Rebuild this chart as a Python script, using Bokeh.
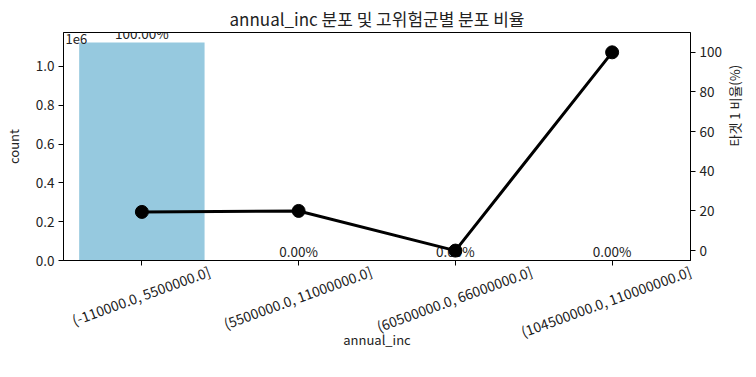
from bokeh.plotting import figure
from bokeh.models import (ColumnDataSource, Range1d, LinearAxis, FixedTicker,
                          Label)
from bokeh.core.properties import value
from bokeh.embed import file_html
from bokeh.resources import INLINE
import math

# ---- data ----
categories = ["(-110000.0, 5500000.0]", "(5500000.0, 11000000.0]",
              "(60500000.0, 66000000.0]", "(104500000.0, 110000000.0]"]
counts = [1124000, 5, 2, 1]
share_labels = ["100.00%", "0.00%", "0.00%", "0.00%"]
target_rate = [19.5, 20.0, 0.0, 100.0]
count_ticks = [0, 200000, 400000, 600000, 800000, 1000000]
count_tick_labels = ["0.0", "0.2", "0.4", "0.6", "0.8", "1.0"]
rate_ticks = [0, 20, 40, 60, 80, 100]

FONT = "Noto Sans CJK KR"
TXT = "#222222"
ROT = math.radians(20)
YMAX = 1175000
W, H = 756, 377
BL, BR = 59, 64
XFS = 14  # px, category label font size

n = len(categories)
xpos = list(range(n))  # category index positions on a linear x scale

p = figure(width=W, height=H, x_range=Range1d(-0.5, n - 0.5),
           y_range=Range1d(0, YMAX), output_backend="svg",
           toolbar_location=None, x_axis_location=None,
           title="annual_inc 분포 및 고위험군별 분포 비율")
p.min_border_left = BL
p.min_border_right = BR
p.min_border_top = 32
p.min_border_bottom = 117
p.grid.visible = False
p.outline_line_color = "black"
p.outline_line_width = 1
p.outline_line_alpha = 1

p.title.align = "center"
p.title.text_font = FONT
p.title.text_font_size = "17px"
p.title.text_font_style = "normal"
p.title.text_color = TXT
p.title.standoff = 4

src = ColumnDataSource(dict(x=xpos, cat=categories, count=counts,
                            lab=share_labels, rate=target_rate))

p.vbar(x="x", top="count", width=0.8, source=src, color="#96c9df",
       line_color=None)

p.text(x="x", y="count", text="lab", source=src, text_align="center",
       text_baseline="bottom", text_font=value(FONT), text_font_size="13.5px",
       text_color=TXT, y_offset=1)

p.extra_y_ranges = {"pct": Range1d(-5, 110)}
p.line(x="x", y="rate", source=src, y_range_name="pct", line_color="black",
       line_width=3)
p.scatter(x="x", y="rate", source=src, y_range_name="pct", size=13,
          color="black")

# ---- x axes: tick marks at category centres, rotated labels centred on them
EM = {"0": .554, "1": .554, "2": .554, "3": .554, "4": .554, "5": .554,
      "6": .554, "7": .554, "8": .554, "9": .554, ".": .27, ",": .27,
      " ": .224, "(": .34, "]": .34, "-": .35}
px_per_unit = (W - BL - BR) / n
shifted = []
for c, s in zip(xpos, categories):
    w = sum(EM.get(ch, .55) for ch in s) * XFS
    t = c + (w / 2) * math.cos(ROT) / px_per_unit
    shifted.append(round(min(t, n - 0.5 - 0.001), 4))

xa = LinearAxis(ticker=FixedTicker(ticks=xpos),
                major_label_overrides={c: "" for c in xpos})
p.add_layout(xa, "below")
xb = LinearAxis(ticker=FixedTicker(ticks=shifted),
                major_label_overrides={t: s for t, s in zip(shifted, categories)},
                axis_label="annual_inc")
p.add_layout(xb, "below")

right = LinearAxis(y_range_name="pct", ticker=FixedTicker(ticks=rate_ticks),
                   axis_label="타겟 1 비율(%)")
p.add_layout(right, "right")

yax = p.yaxis[0]
yax.ticker = FixedTicker(ticks=count_ticks)
yax.major_label_overrides = {t: l for t, l in zip(count_ticks, count_tick_labels)}
yax.axis_label = "count"

for ax in [yax, right, xa, xb]:
    ax.axis_line_color = "black"
    ax.major_tick_line_color = "black"
    ax.major_tick_out = 5
    ax.major_tick_in = 0
    ax.minor_tick_line_color = None
    ax.major_label_text_font = FONT
    ax.major_label_text_font_size = "13.5px"
    ax.major_label_text_color = TXT
    ax.axis_label_text_font = FONT
    ax.axis_label_text_font_size = "13px"
    ax.axis_label_text_font_style = "normal"
    ax.axis_label_text_color = TXT
    ax.axis_label_standoff = 10
    ax.major_label_standoff = 4

xa.major_label_standoff = 0
xa.major_label_text_font_size = "0px"

xb.axis_line_color = None
xb.major_tick_line_color = None
xb.major_tick_out = 0
xb.major_label_orientation = ROT
xb.major_label_text_font_size = f"{XFS}px"
xb.major_label_standoff = 5
xb.axis_label_standoff = -24

try:
    right.axis_label_orientation = math.pi / 2
    right.axis_label_text_align = "center"
except Exception:
    pass

# "1e6" offset text at the top-left of the plot area
p.add_layout(Label(x=-0.5, y=YMAX, text="1e6", text_font=FONT,
                   text_font_size="13px", text_color=TXT, x_offset=2,
                   y_offset=-1, text_baseline="top", text_align="left"))

open("out.html", "w").write(file_html(p, INLINE))
